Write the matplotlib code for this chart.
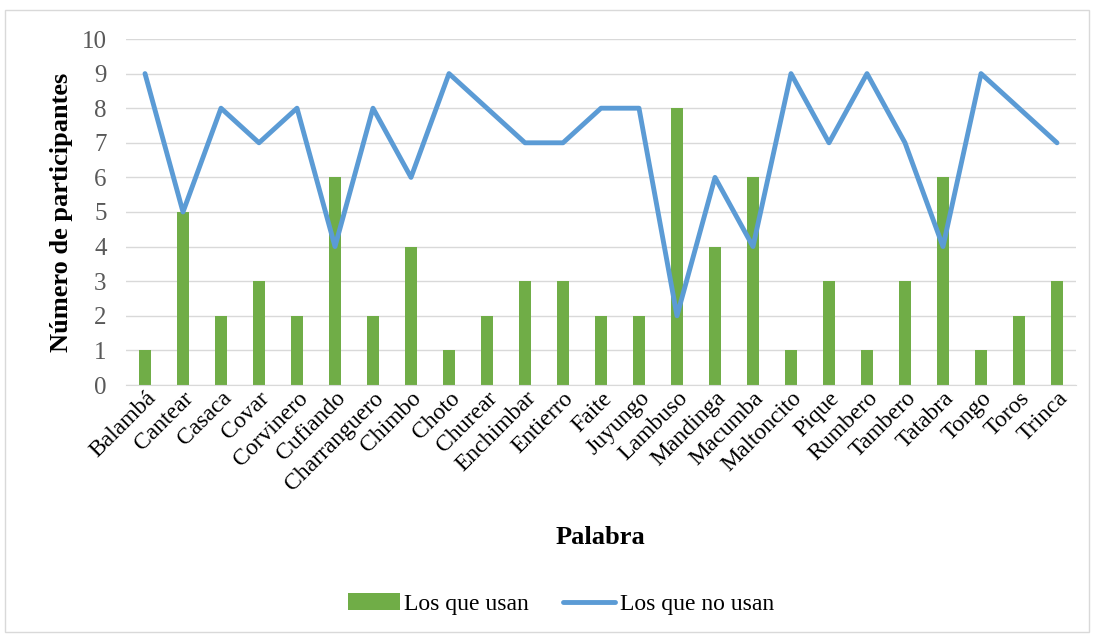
import matplotlib
matplotlib.use("Agg")
import matplotlib.pyplot as plt
import numpy as np

palabras = ["Balambá", "Cantear", "Casaca", "Covar", "Corvinero", "Cufiando",
            "Charranguero", "Chimbo", "Choto", "Churear", "Enchimbar", "Entierro",
            "Faite", "Juyungo", "Lambuso", "Mandinga", "Macumba", "Maltoncito",
            "Pique", "Rumbero", "Tambero", "Tatabra", "Tongo", "Toros", "Trinca"]
usan = [1, 5, 2, 3, 2, 6, 2, 4, 1, 2, 3, 3, 2, 2, 8, 4, 6, 1, 3, 1, 3, 6, 1, 2, 3]
no_usan = [9, 5, 8, 7, 8, 4, 8, 6, 9, 8, 7, 7, 8, 8, 2, 6, 4, 9, 7, 9, 7, 4, 9, 8, 7]

plt.rcParams['font.family'] = ['Liberation Serif', 'DejaVu Serif']

fig = plt.figure(figsize=(10.94, 6.35), dpi=100)
ax = fig.add_axes([126/1094, 1 - 385/635, (1076-126)/1094, (385-39)/635])

x = np.arange(len(palabras))
barras = ax.bar(x, usan, width=0.32, color='#70AD47', label='Los que usan', zorder=2)
linea, = ax.plot(x, no_usan, color='#5B9BD5', lw=3.5, label='Los que no usan', zorder=3,
                 solid_joinstyle='round', solid_capstyle='round')

ax.set_xlim(-0.5, len(palabras) - 0.5)
ax.set_ylim(0, 10)
ax.set_yticks(range(0, 11))
ax.yaxis.grid(True, color='#D9D9D9', lw=1)
ax.set_axisbelow(True)
for s in ['top', 'right', 'left']:
    ax.spines[s].set_visible(False)
ax.spines['bottom'].set_color('#D9D9D9')
ax.tick_params(axis='y', length=0, labelsize=18, labelcolor='#595959', pad=14)
ax.tick_params(axis='x', length=0, labelsize=17, pad=2)
ax.set_xticks(x)
ax.set_xticklabels(palabras, rotation=45, ha='right', rotation_mode='anchor')

ax.set_ylabel('Número de participantes', fontsize=19, fontweight='bold', labelpad=6)
fig.text(600/1094, 1 - 537/635, 'Palabra', fontsize=19, fontweight='bold',
         ha='center', va='center')

fig.legend([barras, linea], ['Los que usan', 'Los que no usan'],
           loc='center', bbox_to_anchor=(561/1094, 1 - 604/635), ncol=2,
           frameon=False, fontsize=17, handlelength=2.2, columnspacing=1.45,
           handletextpad=0.2)

border = plt.Rectangle((5/1094, 3/635), 1084/1094, 622/635, transform=fig.transFigure,
                       fill=False, edgecolor='#D9D9D9', lw=1)
fig.patches.append(border)

fig.savefig('out.png', dpi=100)
